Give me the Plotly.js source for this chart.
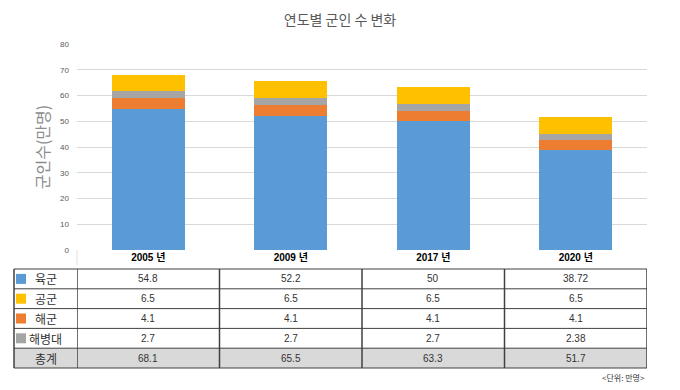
<!DOCTYPE html>
<html><head><meta charset="utf-8">
<script src="https://cdn.plot.ly/plotly-3.0.1.min.js"></script>
<style>html,body{margin:0;padding:0;background:#fff;}#chart{width:680px;height:390px;}</style>
</head><body><div id="chart"></div>
<script>
const categories = ['2005 년', '2009 년', '2017 년', '2020 년'];
const army = [54.8, 52.2, 50, 38.72];      // 육군
const airForce = [6.5, 6.5, 6.5, 6.5];     // 공군
const navy = [4.1, 4.1, 4.1, 4.1];         // 해군
const marines = [2.7, 2.7, 2.7, 2.38];     // 해병대
const totals = [68.1, 65.5, 63.3, 51.7];   // 총계
const yTicks = [0, 10, 20, 30, 40, 50, 60, 70, 80];

const C = {army:'#5B9BD5', air:'#FFC000', navy:'#ED7D31', marines:'#A5A5A5'};
const FONT = 'Liberation Sans, Arial, "Noto Sans CJK KR", sans-serif';
const KFONT = '"Noto Sans CJK KR", "Liberation Sans", sans-serif';

function bar(name, vals, color){
  return {type:'bar', name:name, x:categories, y:vals, marker:{color:color}, hoverinfo:'y+name'};
}
const traces = [
  bar('육군', army, C.army),
  bar('해군', navy, C.navy),
  bar('해병대', marines, C.marines),
  bar('공군', airForce, C.air)
];

// geometry (pixels) for the table under the plot
const PT = 44, PB = 250, PL = 77, PR = 647;
const PH = PB - PT, PW = PR - PL;
const py = p => (PB - p) / PH;
const px = p => (p - PL) / PW;
const rowTop = 269, rowH = 19.8, tableLeft = 14;

const rows = [
  {label:'육군', vals:army, color:C.army},
  {label:'공군', vals:airForce, color:C.air},
  {label:'해군', vals:navy, color:C.navy},
  {label:'해병대', vals:marines, color:C.marines},
  {label:'총계', vals:totals, color:null}
];

const shapes = [];
const annotations = [];
shapes.push({type:'rect', xref:'paper', yref:'paper', x0:px(tableLeft), x1:1,
  y0:py(rowTop + rowH*4), y1:py(rowTop + rowH*5), fillcolor:'#d9d9d9', line:{width:0}});
for (let k = 0; k <= rows.length; k++) {
  shapes.push({type:'line', xref:'paper', yref:'paper', x0:px(tableLeft), x1:1,
    y0:py(rowTop + rowH*k), y1:py(rowTop + rowH*k), line:{color:'#404040', width:1}});
}
shapes.push({type:'line', xref:'paper', yref:'paper', x0:px(tableLeft), x1:px(tableLeft),
  y0:py(rowTop), y1:py(rowTop + rowH*rows.length), line:{color:'#404040', width:1.5}});
for (let i = 0; i <= categories.length; i++) {
  shapes.push({type:'line', xref:'x', yref:'paper', x0:i-0.5, x1:i-0.5,
    y0:py(rowTop), y1:py(rowTop + rowH*rows.length), line:{color:'#404040', width:1.5}});
}
// faint tick line under the y axis
shapes.push({type:'line', xref:'paper', yref:'paper', x0:0, x1:0, y0:0, y1:py(265),
  line:{color:'#e0e0e0', width:1}});
rows.forEach((r, k) => {
  const yc = py(rowTop + rowH*(k+0.5));
  if (r.color) {
    shapes.push({type:'rect', xref:'paper', yref:'paper', x0:px(16), x1:px(26),
      y0:yc - 5/PH, y1:yc + 5/PH, fillcolor:r.color, line:{width:0}});
  }
  annotations.push({xref:'paper', yref:'paper', x:px(r.label.length > 2 ? 45 : 46), y:yc,
    text:r.label, showarrow:false, xanchor:'center', yanchor:'middle',
    font:{family:KFONT, size:12, color:'#333'}});
  r.vals.forEach((v, i) => {
    annotations.push({xref:'x', yref:'paper', x:categories[i], y:yc, text:String(v),
      showarrow:false, xanchor:'center', yanchor:'middle',
      font:{family:FONT, size:10, color:'#333'}});
  });
});
annotations.push({xref:'paper', yref:'paper', x:1, y:py(377), text:'&lt;단위: 만명&gt;',
  showarrow:false, xanchor:'right', yanchor:'middle', font:{family:KFONT, size:8, color:'#333'}});

const layout = {
  width:680, height:390,
  margin:{l:PL, r:680-PR, t:PT, b:390-PB, pad:0},
  paper_bgcolor:'#fff', plot_bgcolor:'#fff',
  barmode:'stack', bargap:0.49, showlegend:false,
  title:{text:'연도별 군인 수 변화', x:0.5, xanchor:'center', y:1-20/390, yanchor:'middle',
    font:{family:KFONT, size:14, color:'#595959'}},
  xaxis:{type:'category', showgrid:false, zeroline:false, showline:false, ticks:'',
    tickfont:{family:FONT, size:10, color:'#000', weight:'bold'}, range:[-0.5, 3.5]},
  yaxis:{range:[0, 80], tickvals:yTicks, ticktext:yTicks.map(String), showgrid:true, gridcolor:'#d9d9d9',
    zeroline:false, showline:false, ticks:'', ticklabelstandoff:7,
    tickfont:{family:FONT, size:8, color:'#595959'},
    title:{text:'군인수(만명)', standoff:6, font:{family:KFONT, size:16, color:'#8c8c8c'}}},
  shapes:shapes, annotations:annotations
};
Plotly.newPlot('chart', traces, layout, {displayModeBar:false, staticPlot:true});
</script></body></html>
